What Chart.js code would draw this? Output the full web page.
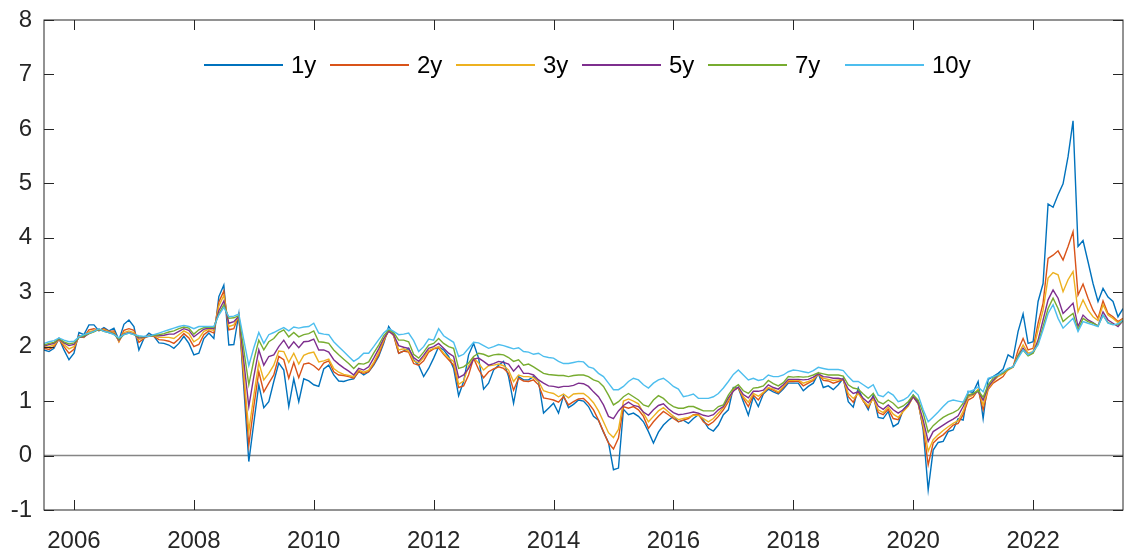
<!DOCTYPE html>
<html>
<head>
<meta charset="utf-8">
<script src="https://cdn.jsdelivr.net/npm/chart.js@4.4.1/dist/chart.umd.min.js"></script>
<style>
  body { margin: 0; background: #fff; }
  #wrap { position: relative; width: 1125px; height: 552px; }
  #legend { position: absolute; left: 0; top: 0; width: 1125px; height: 90px;
            font: 24px "Liberation Sans", Arial, sans-serif; color: #000; }
  .item { position: absolute; top: 51px; display: flex; align-items: center; height: 28px; }
  .swatch { display: block; width: 79px; height: 1.5px; margin-right: 8px; }
</style>
</head>
<body>
<div id="wrap">
  <canvas id="chart" width="1125" height="552"></canvas>
  <div id="legend"></div>
</div>
<script>
// monthly yields, Jul 2005 .. Jul 2023
const startYear = 2005;
const startMonth = 7;
const labels = ["1y", "2y", "3y", "5y", "7y", "10y"];
const colors = ["#0072BD", "#D95319", "#EDB120", "#7E2F8E", "#77AC30", "#4DBEEE"];
const yearTicks = [2006, 2008, 2010, 2012, 2014, 2016, 2018, 2020, 2022];
const yTicks = [-1, 0, 1, 2, 3, 4, 5, 6, 7, 8];

const y1 = [
  1.94, 1.91, 1.97, 2.15, 1.94, 1.76, 1.88, 2.26, 2.22, 2.40, 2.40, 2.29, 2.35, 2.29, 2.34, 2.12, 2.41, 2.49, 2.37, 1.94,
  2.15, 2.25, 2.19, 2.07, 2.06, 2.03, 1.97, 2.06, 2.19, 2.06, 1.85, 1.88, 2.15, 2.25, 2.15, 2.92, 3.13, 2.03,
  2.04, 2.60, 1.25, -0.11, 0.60, 1.30, 0.88, 0.99, 1.36, 1.70, 1.57, 0.90, 1.41, 0.99, 1.41, 1.37, 1.30, 1.27, 1.59, 1.66,
  1.48, 1.37, 1.36, 1.39, 1.41, 1.55, 1.48, 1.54, 1.66, 1.82, 2.06, 2.37, 2.22, 1.88, 1.92,
  1.97, 1.76, 1.66, 1.45, 1.60, 1.79, 2.00, 1.94, 1.82, 1.60, 1.10, 1.36, 1.85, 2.06, 1.79, 1.22, 1.33, 1.57, 1.66, 1.73,
  1.45, 0.96, 1.45, 1.39, 1.39, 1.45, 1.36, 0.78, 0.87, 0.96, 0.78, 1.10, 0.88, 0.94, 1.02, 1.00,
  0.90, 0.72, 0.65, 0.43, 0.24, -0.26, -0.23, 0.85, 0.75, 0.78, 0.72, 0.62, 0.44, 0.23, 0.43, 0.56, 0.65, 0.72, 0.62, 0.65,
  0.59, 0.68, 0.75, 0.65, 0.50, 0.45, 0.56, 0.75, 0.84, 1.25, 1.24, 0.99, 0.74, 1.08, 0.90,
  1.13, 1.22, 1.17, 1.13, 1.22, 1.33, 1.33, 1.33, 1.19, 1.27, 1.33, 1.51, 1.25, 1.28, 1.21, 1.30, 1.42, 0.99, 0.89, 1.24,
  1.01, 0.84, 1.11, 0.70, 0.68, 0.81, 0.53, 0.59, 0.84, 0.95, 1.11, 0.99, 0.47,
  -0.63, 0.10, 0.24, 0.26, 0.44, 0.47, 0.68, 0.65, 1.18, 1.16, 1.36, 0.68, 1.40, 1.45, 1.51, 1.59, 1.85, 1.79, 2.28, 2.60,
  2.06, 2.09, 2.83, 3.16, 4.62, 4.56, 4.79, 4.99, 5.49, 6.15, 3.84, 3.95, 3.56, 3.16, 2.83, 3.07, 2.91, 2.83, 2.55, 2.70
];
const y2 = [
  1.97, 1.95, 2.00, 2.14, 2.00, 1.88, 1.95, 2.20, 2.18, 2.31, 2.33, 2.30, 2.33, 2.28, 2.29, 2.09, 2.30, 2.33, 2.30, 2.08,
  2.15, 2.21, 2.19, 2.13, 2.12, 2.10, 2.06, 2.14, 2.24, 2.16, 2.00, 2.04, 2.22, 2.29, 2.25, 2.82, 3.02,
  2.31, 2.33, 2.58, 1.39, 0.19, 0.90, 1.54, 1.17, 1.33, 1.48, 1.82, 1.76, 1.42, 1.71, 1.43, 1.68, 1.70, 1.65, 1.57, 1.70,
  1.74, 1.54, 1.48, 1.47, 1.45, 1.42, 1.54, 1.51, 1.54, 1.68, 1.85, 2.09, 2.31, 2.20, 1.88, 1.92,
  1.90, 1.69, 1.66, 1.74, 1.90, 1.96, 1.98, 1.86, 1.76, 1.66, 1.25, 1.28, 1.48, 1.79, 1.58, 1.43, 1.54, 1.59, 1.63, 1.60,
  1.51, 1.20, 1.42, 1.37, 1.36, 1.39, 1.30, 1.06, 1.04, 1.02, 0.98, 1.08, 0.93, 0.99, 1.04, 1.05,
  0.96, 0.84, 0.65, 0.44, 0.23, 0.12, 0.32, 0.90, 0.87, 0.90, 0.84, 0.72, 0.50, 0.62, 0.72, 0.81, 0.75, 0.68, 0.62, 0.65,
  0.68, 0.75, 0.76, 0.62, 0.56, 0.62, 0.72, 0.84, 0.99, 1.21, 1.24, 1.05, 0.90, 1.11, 1.02,
  1.15, 1.24, 1.20, 1.15, 1.25, 1.36, 1.36, 1.37, 1.28, 1.33, 1.38, 1.50, 1.38, 1.37, 1.33, 1.36, 1.40, 1.08, 0.98, 1.17,
  1.00, 0.88, 1.07, 0.79, 0.75, 0.85, 0.68, 0.66, 0.82, 0.92, 1.09, 0.96, 0.52,
  -0.17, 0.23, 0.32, 0.38, 0.47, 0.56, 0.59, 0.75, 1.02, 1.07, 1.21, 0.84, 1.21, 1.33, 1.39, 1.45, 1.59, 1.63, 1.94, 2.15,
  1.94, 1.97, 2.43, 2.80, 3.62, 3.68, 3.76, 3.59, 3.84, 4.11, 2.95, 3.15, 2.89, 2.67, 2.52, 2.84, 2.61, 2.55, 2.46, 2.52
];
const y3 = [
  1.99, 2.00, 2.03, 2.14, 2.04, 1.96, 2.00, 2.18, 2.17, 2.27, 2.30, 2.31, 2.31, 2.27, 2.26, 2.10, 2.26, 2.29, 2.26, 2.13,
  2.16, 2.20, 2.20, 2.17, 2.17, 2.17, 2.15, 2.22, 2.29, 2.24, 2.09, 2.15, 2.28, 2.32, 2.30, 2.75, 2.94,
  2.37, 2.40, 2.57, 1.51, 0.45, 1.10, 1.71, 1.39, 1.51, 1.66, 1.92, 1.91, 1.71, 1.88, 1.68, 1.84, 1.88, 1.90, 1.72, 1.74,
  1.77, 1.60, 1.53, 1.49, 1.47, 1.45, 1.57, 1.53, 1.57, 1.71, 1.90, 2.12, 2.29, 2.22, 1.94, 1.96,
  1.92, 1.74, 1.70, 1.80, 1.93, 1.97, 2.00, 1.88, 1.79, 1.73, 1.31, 1.37, 1.65, 1.79, 1.70, 1.57, 1.65, 1.66, 1.68, 1.65,
  1.57, 1.36, 1.48, 1.45, 1.45, 1.43, 1.36, 1.19, 1.16, 1.14, 1.08, 1.13, 1.06, 1.13, 1.14, 1.14,
  1.07, 0.97, 0.82, 0.62, 0.42, 0.33, 0.48, 1.00, 1.04, 1.00, 0.95, 0.78, 0.62, 0.72, 0.82, 0.88, 0.80, 0.72, 0.66, 0.68,
  0.70, 0.74, 0.74, 0.68, 0.62, 0.68, 0.78, 0.88, 1.02, 1.20, 1.25, 1.08, 0.98, 1.14, 1.09,
  1.16, 1.25, 1.22, 1.17, 1.27, 1.38, 1.38, 1.39, 1.33, 1.36, 1.40, 1.50, 1.42, 1.40, 1.38, 1.39, 1.40, 1.14, 1.05, 1.14,
  1.01, 0.91, 1.05, 0.84, 0.79, 0.89, 0.76, 0.70, 0.81, 0.91, 1.08, 0.95, 0.56,
  0.08, 0.29, 0.38, 0.46, 0.53, 0.59, 0.64, 0.81, 1.07, 1.11, 1.22, 0.93, 1.23, 1.36, 1.45, 1.50, 1.57, 1.62, 1.85, 2.03,
  1.88, 1.91, 2.31, 2.67, 3.26, 3.36, 3.32, 3.01, 3.23, 3.38, 2.64, 2.86, 2.67, 2.55, 2.48, 2.77, 2.58, 2.52, 2.44, 2.50
];
const y5 = [
  2.01, 2.04, 2.06, 2.14, 2.07, 2.02, 2.04, 2.17, 2.18, 2.24, 2.28, 2.32, 2.29, 2.26, 2.24, 2.12, 2.23, 2.26, 2.23, 2.16,
  2.17, 2.19, 2.21, 2.20, 2.21, 2.23, 2.23, 2.28, 2.33, 2.30, 2.18, 2.25, 2.32, 2.34, 2.33, 2.66, 2.84,
  2.43, 2.46, 2.56, 1.73, 0.90, 1.45, 1.94, 1.66, 1.82, 1.85, 2.00, 2.12, 1.97, 2.09, 1.98, 2.09, 2.10, 2.14, 1.94, 1.94,
  1.90, 1.76, 1.68, 1.61, 1.55, 1.48, 1.60, 1.57, 1.63, 1.79, 1.96, 2.15, 2.28, 2.22, 2.02, 1.99,
  1.97, 1.80, 1.73, 1.84, 1.97, 2.00, 2.06, 1.97, 1.88, 1.82, 1.43, 1.48, 1.60, 1.77, 1.79, 1.73, 1.66, 1.69, 1.73, 1.71,
  1.68, 1.55, 1.65, 1.51, 1.51, 1.48, 1.39, 1.33, 1.28, 1.27, 1.25, 1.27, 1.27, 1.29, 1.33, 1.32,
  1.27, 1.17, 1.08, 0.93, 0.72, 0.68, 0.82, 0.92, 0.98, 0.92, 0.90, 0.80, 0.74, 0.84, 0.92, 0.95, 0.86, 0.79, 0.75, 0.76,
  0.78, 0.80, 0.78, 0.74, 0.72, 0.75, 0.84, 0.90, 1.06, 1.18, 1.26, 1.12, 1.06, 1.18, 1.18,
  1.20, 1.30, 1.25, 1.22, 1.30, 1.40, 1.40, 1.40, 1.39, 1.40, 1.44, 1.50, 1.45, 1.44, 1.42, 1.42, 1.40, 1.22, 1.14, 1.17,
  1.05, 0.97, 1.08, 0.91, 0.85, 0.93, 0.84, 0.78, 0.84, 0.93, 1.08, 0.96, 0.65,
  0.26, 0.44, 0.50, 0.56, 0.62, 0.67, 0.73, 0.90, 1.10, 1.13, 1.18, 1.02, 1.26, 1.38, 1.48, 1.52, 1.59, 1.63, 1.83, 1.97,
  1.85, 1.89, 2.12, 2.49, 2.86, 3.04, 2.89, 2.61, 2.70, 2.80, 2.37, 2.58, 2.49, 2.44, 2.38, 2.64, 2.49, 2.43, 2.37, 2.48
];
const y7 = [
  2.03, 2.06, 2.08, 2.15, 2.09, 2.05, 2.07, 2.17, 2.20, 2.24, 2.27, 2.32, 2.28, 2.26, 2.23, 2.14, 2.22, 2.25, 2.22, 2.18,
  2.18, 2.19, 2.21, 2.22, 2.24, 2.27, 2.29, 2.33, 2.36, 2.34, 2.23, 2.31, 2.35, 2.36, 2.35, 2.60, 2.77,
  2.52, 2.53, 2.57, 1.94, 1.30, 1.75, 2.12, 1.94, 2.09, 2.15, 2.26, 2.31, 2.18, 2.26, 2.18, 2.22, 2.24, 2.29, 2.09, 2.08,
  2.06, 1.94, 1.85, 1.77, 1.69, 1.60, 1.69, 1.68, 1.72, 1.88, 2.03, 2.20, 2.31, 2.26, 2.12, 2.12,
  2.09, 1.86, 1.79, 1.90, 2.03, 2.06, 2.15, 2.06, 2.00, 1.97, 1.60, 1.63, 1.70, 1.82, 1.88, 1.86, 1.82, 1.85, 1.86, 1.85,
  1.80, 1.73, 1.76, 1.66, 1.68, 1.63, 1.57, 1.51, 1.49, 1.48, 1.47, 1.47, 1.45, 1.47, 1.48, 1.48,
  1.45, 1.39, 1.36, 1.27, 1.11, 0.93, 0.99, 1.08, 1.14, 1.08, 1.02, 0.93, 0.90, 1.02, 1.10, 1.05, 0.96, 0.90, 0.87, 0.87,
  0.90, 0.90, 0.86, 0.82, 0.82, 0.82, 0.90, 0.93, 1.11, 1.24, 1.30, 1.19, 1.14, 1.24, 1.25,
  1.28, 1.38, 1.32, 1.28, 1.34, 1.45, 1.44, 1.45, 1.44, 1.45, 1.48, 1.52, 1.50, 1.48, 1.48, 1.48, 1.46, 1.30, 1.24, 1.22,
  1.13, 1.05, 1.14, 0.99, 0.95, 1.02, 0.96, 0.87, 0.91, 0.99, 1.11, 1.02, 0.78,
  0.43, 0.55, 0.63, 0.70, 0.75, 0.79, 0.84, 0.96, 1.11, 1.14, 1.19, 1.07, 1.30, 1.42, 1.48, 1.52, 1.59, 1.63, 1.82, 1.94,
  1.83, 1.88, 2.06, 2.37, 2.70, 2.89, 2.70, 2.46, 2.54, 2.61, 2.31, 2.52, 2.46, 2.43, 2.38, 2.58, 2.44, 2.41, 2.40, 2.48
];
const y10 = [
  2.06, 2.09, 2.11, 2.16, 2.12, 2.09, 2.10, 2.18, 2.22, 2.25, 2.28, 2.33, 2.28, 2.26, 2.22, 2.16, 2.22, 2.25, 2.22, 2.20,
  2.19, 2.19, 2.22, 2.25, 2.28, 2.31, 2.34, 2.37, 2.39, 2.37, 2.33, 2.37, 2.37, 2.37, 2.37, 2.58, 2.72,
  2.55, 2.56, 2.60, 2.12, 1.65, 1.98, 2.26, 2.06, 2.22, 2.26, 2.31, 2.35, 2.29, 2.36, 2.34, 2.36, 2.37, 2.43, 2.25, 2.23,
  2.22, 2.09, 2.00, 1.91, 1.82, 1.73, 1.79, 1.88, 1.88, 2.00, 2.13, 2.25, 2.33, 2.28, 2.22, 2.23,
  2.25, 2.11, 1.91, 2.00, 2.14, 2.12, 2.33, 2.20, 2.14, 2.08, 1.82, 1.86, 1.97, 2.08, 2.07, 2.02, 1.97, 2.00, 2.04, 2.02,
  1.99, 1.96, 1.98, 1.91, 1.90, 1.86, 1.88, 1.82, 1.80, 1.79, 1.73, 1.69, 1.69, 1.71, 1.73, 1.72,
  1.63, 1.60, 1.51, 1.45, 1.33, 1.21, 1.21, 1.27, 1.36, 1.42, 1.39, 1.30, 1.24, 1.33, 1.39, 1.42, 1.35, 1.27, 1.22, 1.08,
  1.10, 1.13, 1.05, 1.05, 1.05, 1.08, 1.14, 1.24, 1.36, 1.49, 1.57, 1.48, 1.39, 1.42, 1.38,
  1.40, 1.48, 1.45, 1.45, 1.48, 1.54, 1.57, 1.56, 1.54, 1.52, 1.56, 1.62, 1.60, 1.58, 1.58, 1.58, 1.56, 1.45, 1.36, 1.36,
  1.30, 1.24, 1.30, 1.11, 1.08, 1.17, 1.11, 0.99, 1.02, 1.08, 1.20, 1.11, 0.84,
  0.62, 0.71, 0.80, 0.90, 0.99, 1.02, 1.00, 0.98, 1.17, 1.20, 1.26, 1.17, 1.42, 1.45, 1.48, 1.54, 1.60, 1.63, 1.79, 1.94,
  1.85, 1.91, 2.03, 2.31, 2.61, 2.77, 2.52, 2.34, 2.43, 2.52, 2.28, 2.46, 2.43, 2.40, 2.37, 2.58, 2.43, 2.40, 2.42, 2.49
];
const series = [y1, y2, y3, y5, y7, y10];

const axisColor = "#262626";
const tickFont = { family: "'Liberation Sans', Arial, sans-serif", size: 24 };

const toPoints = (vals) =>
  vals.map((v, i) => ({ x: startYear + (startMonth - 1 + i) / 12, y: v }));

// MATLAB-like box with inward ticks and a zero line
const boxPlugin = {
  id: "box",
  beforeDatasetsDraw(chart) {
    const { ctx, chartArea: a, scales } = chart;
    const y0 = scales.y.getPixelForValue(0);
    ctx.save();
    ctx.strokeStyle = "#858585";
    ctx.lineWidth = 1.6;
    ctx.beginPath();
    ctx.moveTo(a.left, y0);
    ctx.lineTo(a.right, y0);
    ctx.stroke();
    ctx.restore();
  },
  afterDatasetsDraw(chart) {
    const { ctx, chartArea: a, scales } = chart;
    const len = 10;
    ctx.save();
    ctx.strokeStyle = axisColor;
    ctx.lineWidth = 1;
    ctx.strokeRect(a.left, a.top, a.right - a.left, a.bottom - a.top);
    ctx.beginPath();
    yearTicks.forEach((t) => {
      const x = Math.round(scales.x.getPixelForValue(t)) + 0.5;
      ctx.moveTo(x, a.bottom);
      ctx.lineTo(x, a.bottom - len);
      ctx.moveTo(x, a.top);
      ctx.lineTo(x, a.top + len);
    });
    yTicks.forEach((t) => {
      const y = Math.round(scales.y.getPixelForValue(t)) + 0.5;
      ctx.moveTo(a.left, y);
      ctx.lineTo(a.left + len, y);
      ctx.moveTo(a.right, y);
      ctx.lineTo(a.right - len, y);
    });
    ctx.stroke();
    ctx.restore();
  },
};

const chart = new Chart(document.getElementById("chart"), {
  type: "line",
  data: {
    datasets: series.map((vals, i) => ({
      label: labels[i],
      data: toPoints(vals),
      borderColor: colors[i],
      backgroundColor: colors[i],
      borderWidth: 1.4,
      pointRadius: 0,
      tension: 0,
      order: labels.length - i,
    })),
  },
  options: {
    responsive: false,
    animation: false,
    layout: { padding: { top: 20, right: 2, left: 0, bottom: 0 } },
    plugins: {
      legend: { display: false },
      tooltip: { enabled: false },
    },
    scales: {
      x: {
        type: "linear",
        min: startYear + (startMonth - 1) / 12,
        max: startYear + (startMonth - 1 + y1.length - 1) / 12,
        afterBuildTicks: (s) => { s.ticks = yearTicks.map((v) => ({ value: v })); },
        afterFit: (s) => { s.height = 42; },
        grid: { display: false },
        border: { display: false },
        ticks: {
          font: tickFont,
          color: axisColor,
          padding: 9,
          maxRotation: 0,
          autoSkip: false,
          callback: (v) => String(v),
        },
      },
      y: {
        min: yTicks[0],
        max: yTicks[yTicks.length - 1],
        afterBuildTicks: (s) => { s.ticks = yTicks.map((v) => ({ value: v })); },
        afterFit: (s) => { s.width = 44; },
        grid: { display: false },
        border: { display: false },
        ticks: {
          font: tickFont,
          color: axisColor,
          padding: 4,
          callback: (v) => String(v),
        },
      },
    },
  },
  plugins: [boxPlugin],
});

// legend inside the axes, like the original
const legendLeft = [204, 330, 456, 582, 708, 845];
const legendBox = document.getElementById("legend");
labels.forEach((name, i) => {
  const item = document.createElement("div");
  item.className = "item";
  item.style.left = legendLeft[i] + "px";
  const sw = document.createElement("span");
  sw.className = "swatch";
  sw.style.background = colors[i];
  const txt = document.createElement("span");
  txt.textContent = name;
  item.appendChild(sw);
  item.appendChild(txt);
  legendBox.appendChild(item);
});
</script>
</body>
</html>
